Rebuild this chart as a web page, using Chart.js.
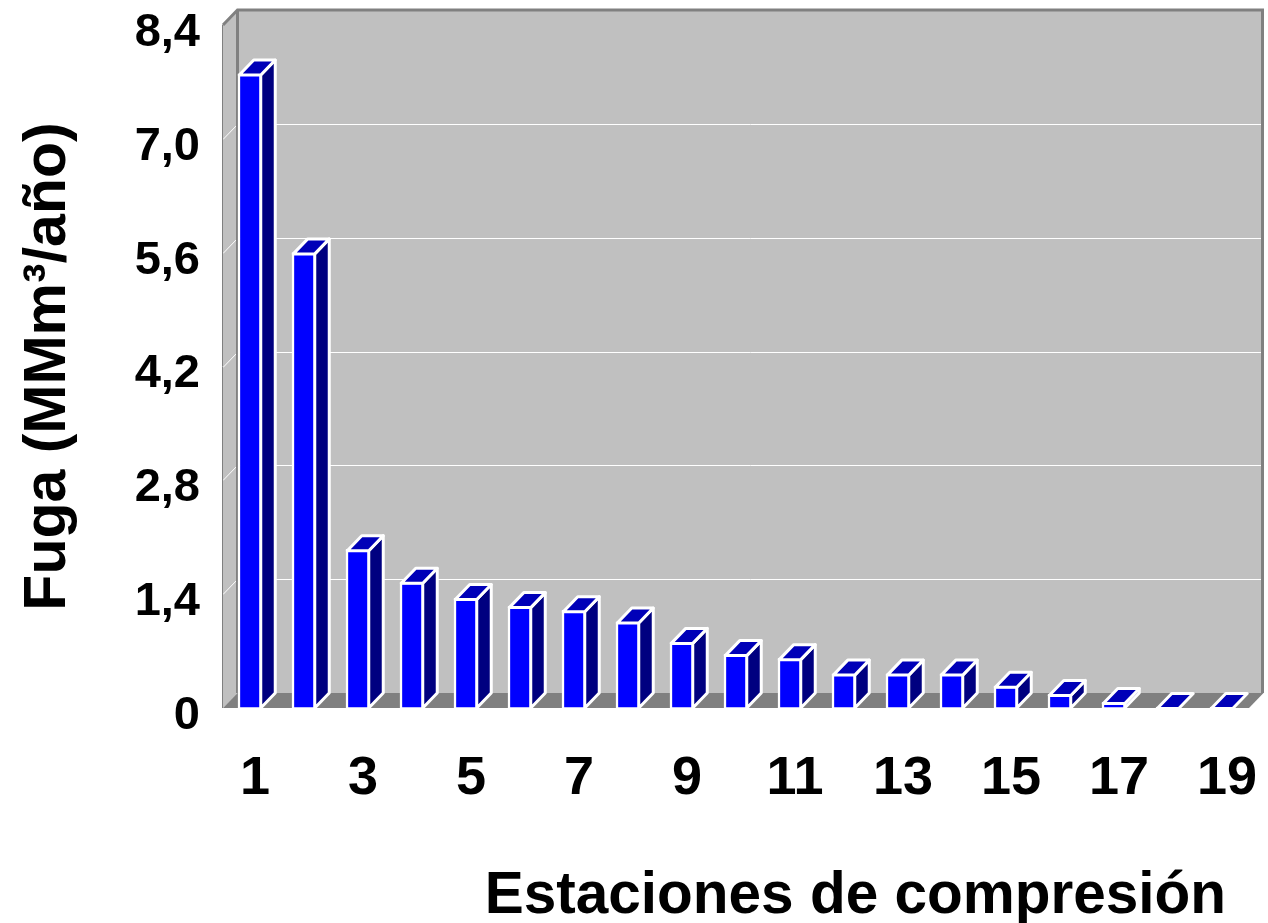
<!DOCTYPE html>
<html>
<head>
<meta charset="utf-8">
<title>Fuga por estación de compresión</title>
<script src="https://cdn.jsdelivr.net/npm/chart.js@4"></script>
<style>
    html, body { margin: 0; padding: 0; background: #fff; }
    canvas { display: block; }
</style>
</head>
<body>
<canvas id="graficoFuga" width="1268" height="923"></canvas>
<script>
// Datos
const estaciones = ['1', '2', '3', '4', '5', '6', '7', '8', '9', '10', '11', '12', '13', '14', '15', '16', '17', '18', '19'];
const fuga = [7.80, 5.60, 1.95, 1.55, 1.35, 1.25, 1.20, 1.06, 0.81, 0.66, 0.61, 0.42, 0.42, 0.42, 0.27, 0.17, 0.07, 0.01, 0.01];
const valoresY = [0, 1.4, 2.8, 4.2, 5.6, 7.0, 8.4];
const etiquetasY = ['0', '1,4', '2,8', '4,2', '5,6', '7,0', '8,4'];
const tituloX = 'Estaciones de compresión';
const tituloY = 'Fuga (MMm³/año)';

const FUENTE = '"Liberation Sans", Arial, sans-serif';
const PROF_X = 14.5; // profundidad del efecto 3D
const PROF_Y = 15;

function poligono(ctx, puntos) {
    ctx.beginPath();
    puntos.forEach(function (p, i) {
        if (i === 0) ctx.moveTo(p[0], p[1]); else ctx.lineTo(p[0], p[1]);
    });
    ctx.closePath();
}

// Paredes y piso del gráfico 3D
const paredes3d = {
    id: 'paredes3d',
    beforeDatasetsDraw(chart) {
        const { ctx, chartArea: a, scales } = chart;
        const L = a.left, R = a.right, T = a.top, B = a.bottom;
        ctx.save();
        ctx.fillStyle = '#c0c0c0';
        poligono(ctx, [[L + PROF_X, T - PROF_Y], [R + PROF_X, T - PROF_Y], [R + PROF_X, B - PROF_Y], [L + PROF_X, B - PROF_Y]]);
        ctx.fill();
        poligono(ctx, [[L, T], [L + PROF_X, T - PROF_Y], [L + PROF_X, B - PROF_Y], [L, B]]);
        ctx.fill();

        // líneas de división sobre la pared
        ctx.strokeStyle = '#ffffff';
        ctx.lineWidth = 1;
        valoresY.forEach(function (v) {
            if (v === 0 || v === 8.4) return;
            const y = Math.round(scales.y.getPixelForValue(v)) + 0.5;
            ctx.beginPath();
            ctx.moveTo(L, y);
            ctx.lineTo(L + PROF_X, y - PROF_Y);
            ctx.lineTo(R + PROF_X, y - PROF_Y);
            ctx.stroke();
        });

        ctx.fillStyle = '#808080';
        poligono(ctx, [[L, B], [L + PROF_X, B - PROF_Y], [R + PROF_X, B - PROF_Y], [R, B]]);
        ctx.fill();

        // bordes
        ctx.strokeStyle = '#808080';
        ctx.lineWidth = 3;
        ctx.beginPath();
        ctx.moveTo(L, T);
        ctx.lineTo(L + PROF_X, T - PROF_Y);
        ctx.lineTo(R + PROF_X - 1, T - PROF_Y);
        ctx.lineTo(R + PROF_X - 1, B - PROF_Y);
        ctx.moveTo(L + PROF_X, T - PROF_Y);
        ctx.lineTo(L + PROF_X, B - PROF_Y);
        ctx.stroke();
        ctx.lineWidth = 1;
        ctx.beginPath();
        ctx.moveTo(L - 0.5, T);
        ctx.lineTo(L - 0.5, B);
        ctx.stroke();
        ctx.restore();
    }
};

// Caras lateral y superior de cada barra, a partir de los elementos de Chart.js
const barras3d = {
    id: 'barras3d',
    afterDatasetsDraw(chart) {
        const ctx = chart.ctx;
        ctx.save();
        ctx.strokeStyle = '#ffffff';
        ctx.lineWidth = 3;
        ctx.lineJoin = 'round';
        chart.getDatasetMeta(0).data.forEach(function (barra) {
            const izq = barra.x - barra.width / 2 + 1.25;
            const der = barra.x + barra.width / 2 - 1.25;
            const arriba = barra.y + 1.25;
            const abajo = barra.base;
            if (abajo - arriba > 1) {
                ctx.fillStyle = '#000080';
                poligono(ctx, [[der, arriba], [der + PROF_X, arriba - PROF_Y], [der + PROF_X, abajo - PROF_Y], [der, abajo]]);
                ctx.fill();
                ctx.stroke();
            }
            ctx.fillStyle = '#0000b8';
            poligono(ctx, [[izq, arriba], [izq + PROF_X, arriba - PROF_Y], [der + PROF_X, arriba - PROF_Y], [der, arriba]]);
            ctx.fill();
            ctx.stroke();
        });
        ctx.restore();
    }
};

// Título del eje X, corrido a la derecha como en el original
const tituloEjeX = {
    id: 'tituloEjeX',
    afterDraw(chart) {
        const ctx = chart.ctx;
        ctx.save();
        ctx.fillStyle = '#000000';
        ctx.font = 'bold 58.5px ' + FUENTE;
        ctx.textAlign = 'right';
        ctx.textBaseline = 'alphabetic';
        ctx.fillText(tituloX, 1226, 913);
        ctx.restore();
    }
};

var ctxFuga = document.getElementById('graficoFuga').getContext('2d');
var graficoFuga = new Chart(ctxFuga, {
    type: 'bar',
    data: {
        labels: estaciones,
        datasets: [{
            label: tituloY,
            data: fuga,
            backgroundColor: '#0000ff',
            borderColor: '#ffffff',
            borderWidth: { top: 2.5, left: 2.5, right: 2.5, bottom: 1 },
            borderSkipped: false,
            barThickness: 24,
            clip: false
        }]
    },
    plugins: [paredes3d, barras3d, tituloEjeX],
    options: {
        responsive: false,
        animation: false,
        layout: { padding: { top: 25, right: 19, bottom: 0, left: 0 } },
        plugins: { legend: { display: false }, tooltip: { enabled: false } },
        scales: {
            x: {
                grid: { display: false },
                border: { display: false },
                afterFit: function (escala) {
                    escala.height = 215;
                    escala.paddingLeft = 0;
                    escala.paddingRight = 0;
                },
                ticks: {
                    autoSkip: false,
                    maxRotation: 0,
                    padding: 31,
                    labelOffset: 5,
                    color: '#000000',
                    font: { family: FUENTE, size: 54, weight: 'bold' },
                    callback: function (valor, i) { return i % 2 === 0 ? estaciones[i] : ''; }
                }
            },
            y: {
                min: 0,
                max: 8.4,
                grid: { display: false, drawTicks: false },
                border: { display: false },
                afterFit: function (escala) {
                    escala.width = 223;
                    escala.paddingTop = 0;
                    escala.paddingBottom = 0;
                },
                afterBuildTicks: function (escala) {
                    escala.ticks = valoresY.map(function (v) { return { value: v }; });
                },
                ticks: {
                    padding: 23,
                    labelOffset: 8,
                    color: '#000000',
                    font: { family: FUENTE, size: 47, weight: 'bold' },
                    callback: function (valor) { return etiquetasY[valoresY.indexOf(valor)]; }
                },
                title: {
                    display: true,
                    text: tituloY,
                    color: '#000000',
                    padding: { top: 13, bottom: 0 },
                    font: { family: FUENTE, size: 59, weight: 'bold' }
                }
            }
        }
    }
});
</script>
</body>
</html>
